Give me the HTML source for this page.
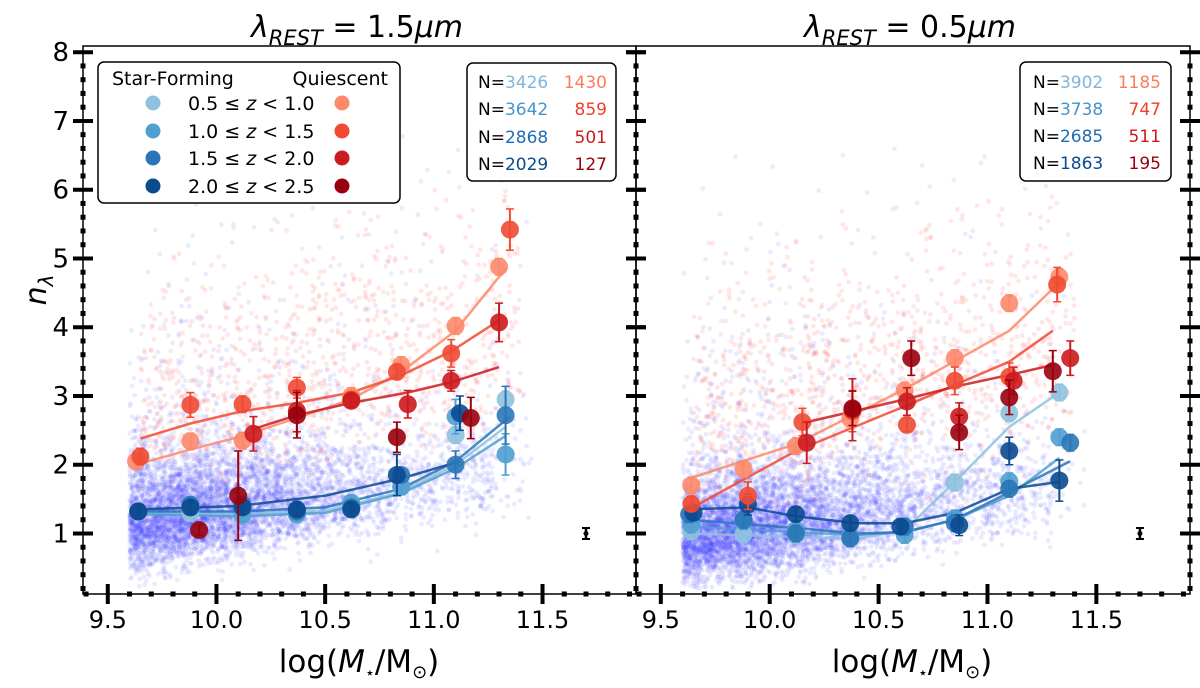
<!DOCTYPE html>
<html><head><meta charset="utf-8"><style>
html,body{margin:0;padding:0;background:#fff;}
svg{display:block;font-family:"DejaVu Sans","Liberation Sans",sans-serif;}
</style></head><body>
<svg id="fig" width="1200" height="688" viewBox="0 0 1200 688" xmlns="http://www.w3.org/2000/svg">
<g id="clouds"></g>
<g id="marks"></g>
<g id="axes"></g>
<text x="357" y="37" font-size="30" text-anchor="middle"><tspan font-style="italic">λ</tspan><tspan font-size="21" font-style="italic" dy="8">REST</tspan><tspan dy="-8"> = 1.5</tspan><tspan font-style="italic">μm</tspan></text>
<text x="910" y="37" font-size="30" text-anchor="middle"><tspan font-style="italic">λ</tspan><tspan font-size="21" font-style="italic" dy="8">REST</tspan><tspan dy="-8"> = 0.5</tspan><tspan font-style="italic">μm</tspan></text>
<text x="359" y="672" font-size="31" text-anchor="middle">log(<tspan font-style="italic">M</tspan><tspan font-size="16" dy="6">⋆</tspan><tspan dy="-6">/M</tspan><tspan font-size="18" dy="6">⊙</tspan><tspan dy="-6">)</tspan></text>
<text x="912" y="672" font-size="31" text-anchor="middle">log(<tspan font-style="italic">M</tspan><tspan font-size="16" dy="6">⋆</tspan><tspan dy="-6">/M</tspan><tspan font-size="18" dy="6">⊙</tspan><tspan dy="-6">)</tspan></text>
<text transform="translate(46,290) rotate(-90)" font-size="30" text-anchor="middle"><tspan font-style="italic">n</tspan><tspan font-size="20" font-style="italic" dy="7">λ</tspan></text>

<g>
<rect x="98" y="62" width="302" height="141" rx="6" fill="#fff" stroke="#000" stroke-width="1.5"/>
<text x="112" y="85" font-size="19">Star-Forming</text>
<text x="388" y="85" font-size="19" text-anchor="end">Quiescent</text>
<g font-size="19">
<circle cx="153" cy="103" r="7.5" fill="#8fc1de"/><text x="188" y="110">0.5 ≤ <tspan font-style="italic">z</tspan> &lt; 1.0</text><circle cx="342" cy="103" r="7.5" fill="#fc8a6a"/>
<circle cx="153" cy="131" r="7.5" fill="#4f9fd1"/><text x="188" y="138">1.0 ≤ <tspan font-style="italic">z</tspan> &lt; 1.5</text><circle cx="342" cy="131" r="7.5" fill="#f04a33"/>
<circle cx="153" cy="158" r="7.5" fill="#2a75b8"/><text x="188" y="165">1.5 ≤ <tspan font-style="italic">z</tspan> &lt; 2.0</text><circle cx="342" cy="158" r="7.5" fill="#cb1b1e"/>
<circle cx="153" cy="186" r="7.5" fill="#0b4a8f"/><text x="188" y="193">2.0 ≤ <tspan font-style="italic">z</tspan> &lt; 2.5</text><circle cx="342" cy="186" r="7.5" fill="#99000d"/>
</g></g>

<g font-size="17">
<rect x="467" y="63" width="149" height="118" rx="6" fill="#fff" stroke="#000" stroke-width="1.5"/>
<text x="478" y="88">N=<tspan fill="#7fb6dc">3426</tspan></text><text x="607" y="88" text-anchor="end" fill="#fc7d5c">1430</text>
<text x="478" y="115">N=<tspan fill="#4394cf">3642</tspan></text><text x="607" y="115" text-anchor="end" fill="#f0402c">859</text>
<text x="478" y="143">N=<tspan fill="#1f6db5">2868</tspan></text><text x="607" y="143" text-anchor="end" fill="#cb1b1e">501</text>
<text x="478" y="170">N=<tspan fill="#0b4a8f">2029</tspan></text><text x="607" y="170" text-anchor="end" fill="#99000d">127</text>
</g>
<g font-size="17">
<rect x="1020" y="62" width="151" height="119" rx="6" fill="#fff" stroke="#000" stroke-width="1.5"/>
<text x="1033" y="88">N=<tspan fill="#7fb6dc">3902</tspan></text><text x="1161" y="88" text-anchor="end" fill="#fc7d5c">1185</text>
<text x="1033" y="115">N=<tspan fill="#4394cf">3738</tspan></text><text x="1161" y="115" text-anchor="end" fill="#f0402c">747</text>
<text x="1033" y="142">N=<tspan fill="#1f6db5">2685</tspan></text><text x="1161" y="142" text-anchor="end" fill="#cb1b1e">511</text>
<text x="1033" y="169">N=<tspan fill="#0b4a8f">1863</tspan></text><text x="1161" y="169" text-anchor="end" fill="#99000d">195</text>
</g>
</svg>
<script>
// ---- data ----
const binMass = [9.64, 9.88, 10.12, 10.37, 10.62, 10.85, 11.1, 11.33];
// Left panel (1.5 micron) — quiescent
const L_q0_x = [9.63, 9.88, 10.12, 10.62, 10.85, 11.1, 11.3];
const L_q0_y = [2.05, 2.34, 2.35, 3.0, 3.45, 4.02, 4.88];
const L_q1_x = [9.65, 9.88, 10.12, 10.37, 10.62, 10.83, 11.08, 11.35];
const L_q1_y = [2.12, 2.87, 2.88, 3.12, 2.95, 3.35, 3.62, 5.42];
const L_q2_x = [10.17, 10.37, 10.62, 10.88, 11.08, 11.3];
const L_q2_y = [2.45, 2.78, 2.93, 2.88, 3.22, 4.07];
const L_q3_x = [9.92, 10.1, 10.37, 10.83, 11.17];
const L_q3_y = [1.05, 1.55, 2.72, 2.4, 2.68];
// Left panel — star-forming
const L_s0_y = [1.32, 1.3, 1.27, 1.27, 1.42, 1.68, 2.43, 2.95];
const L_s1_y = [1.32, 1.38, 1.27, 1.28, 1.45, 1.68, 2.7, 2.15];
const L_s2_y = [1.32, 1.42, 1.42, 1.32, 1.38, 1.85, 2.0, 2.72];
const L_s3_y = [1.32, 1.38, 1.38, 1.35, 1.35, 1.85, 2.75];
// Left fits
const L_fit_q0 = [[9.63,9.88,10.12,10.37,10.62,10.85,11.1,11.33],[2.0,2.22,2.42,2.68,2.95,3.35,3.95,4.85]];
const L_fit_q1 = [[9.65,9.88,10.12,10.37,10.62,10.85,11.08,11.3],[2.38,2.6,2.78,2.9,3.05,3.3,3.65,4.1]];
const L_fit_q2 = [[10.17,10.37,10.62,10.88,11.08,11.3],[2.52,2.72,2.9,3.05,3.2,3.42]];
const L_fit_s0 = [[9.65,10.1,10.5,10.85,11.1,11.33],[1.3,1.28,1.33,1.6,2.0,2.55]];
const L_fit_s1 = [[9.65,10.1,10.5,10.85,11.1,11.33],[1.28,1.25,1.3,1.58,1.95,2.42]];
const L_fit_s2 = [[9.65,10.1,10.5,10.85,11.1,11.35],[1.32,1.32,1.38,1.65,2.05,2.7]];
const L_fit_s3 = [[9.65,10.1,10.5,10.85,11.12],[1.35,1.4,1.55,1.8,2.05]];
// Right panel (0.5 micron) — quiescent
const R_q0_y = [1.7, 1.94, 2.27, 2.67, 3.08, 3.55, 4.35, 4.73];
const R_q1_x = [9.64, 9.9, 10.15, 10.38, 10.63, 10.85, 11.1, 11.32];
const R_q1_y = [1.43, 1.55, 2.62, 2.78, 2.58, 3.22, 3.28, 4.62];
const R_q2_x = [10.17, 10.38, 10.63, 10.87, 11.12, 11.38];
const R_q2_y = [2.32, 2.8, 2.92, 2.7, 3.22, 3.55];
const R_q3_x = [10.38, 10.65, 10.87, 11.1, 11.3];
const R_q3_y = [2.82, 3.55, 2.47, 2.98, 3.36];
// Right panel — star-forming
const R_s0_y = [1.03, 0.99, 0.97, 0.93, 1.07, 1.74, 2.75, 3.05];
const R_s1_y = [1.13, 1.18, 1.05, 0.97, 0.98, 1.22, 1.76, 2.4];
const R_s2_x = [9.63, 9.88, 10.12, 10.37, 10.62, 10.85, 11.1, 11.38];
const R_s2_y = [1.28, 1.2, 1.0, 0.93, 1.1, 1.15, 1.65, 2.32];
const R_s3_x = [9.65, 9.9, 10.12, 10.37, 10.6, 10.87, 11.1, 11.33];
const R_s3_y = [1.3, 1.42, 1.28, 1.15, 1.1, 1.12, 2.2, 1.77];
// Right fits
const R_fit_q0 = [[9.63,10.12,10.62,11.1,11.33],[1.8,2.3,3.1,3.95,4.65]];
const R_fit_q1 = [[9.63,10.12,10.62,11.1,11.3],[1.35,2.2,2.85,3.5,3.95]];
const R_fit_q2 = [[10.17,10.62,10.87,11.12,11.3],[2.62,2.95,3.15,3.32,3.45]];
const R_fit_s0 = [[9.63,10.12,10.4,10.62,10.85,11.1,11.33],[1.0,0.95,0.92,1.05,1.75,2.55,3.05]];
const R_fit_s1 = [[9.63,10.12,10.4,10.62,10.85,11.1,11.33],[1.1,1.02,0.98,1.02,1.2,1.55,2.1]];
const R_fit_s2 = [[9.63,10.12,10.4,10.62,10.85,11.1,11.38],[1.2,1.08,1.0,1.02,1.2,1.6,2.05]];
const R_fit_s3 = [[9.63,9.9,10.12,10.4,10.62,10.85,11.1,11.33],[1.35,1.38,1.25,1.15,1.15,1.3,1.65,1.75]];
const xTicks = [9.5, 10.0, 10.5, 11.0, 11.5];
const xTickLabels = ["9.5", "10.0", "10.5", "11.0", "11.5"];
const yTicks = [1, 2, 3, 4, 5, 6, 7, 8];
const typErr = [11.7, 1.0, 0.08];

// ---- scales ----
const X0 = 9.386, X1 = 11.93, Y0 = 0.12, Y1 = 8.09;
const panels = [{l:83, r:636}, {l:636, r:1190}];
const TOP = 46, BOT = 594;
function sx(p, v){ return p.l + (v - X0) / (X1 - X0) * (p.r - p.l); }
function sy(v){ return BOT - (v - Y0) / (Y1 - Y0) * (BOT - TOP); }
const NS = "http://www.w3.org/2000/svg";
function mk(tag, attrs, parent){ const e = document.createElementNS(NS, tag); for (const k in attrs) e.setAttribute(k, attrs[k]); parent.appendChild(e); return e; }
const clouds = document.getElementById('clouds'), marks = document.getElementById('marks'), axes = document.getElementById('axes');

// ---- background density texture (seeded, decorative) ----
let seed = 12345;
function rnd(){ seed = (seed + 0x6D2B79F5) | 0; let t = seed; t = Math.imul(t ^ (t >>> 15), t | 1); t ^= t + Math.imul(t ^ (t >>> 7), t | 61); return ((t ^ (t >>> 14)) >>> 0) / 4294967296; }
function gauss(){ return Math.sqrt(-2*Math.log(rnd()+1e-9))*Math.cos(2*Math.PI*rnd()); }
panels.forEach((p, pi) => {
  const g = mk('g', {}, clouds);
  
  
  const nBlue = pi ? 6500 : 6000;
  for (let i = 0; i < nBlue; i++) {
    let m = 9.6 + Math.abs(gauss()) * 0.5 * (rnd() < 0.6 ? 1 : 1.5);
    if (rnd() < 0.15) m = 9.6 + rnd() * 1.7;
    const base = pi ? 0.55 : 0.75;
    let n = base + Math.abs(gauss()) * (pi ? 0.55 : 0.6) + (m - 9.6) * 0.45 + gauss() * 0.25;
    if (rnd() < 0.08) n += Math.abs(gauss()) * 1.5;
    if (m > 11.45 || n < 0.2 || n > 7.9) continue;
    mk('circle', {cx: sx(p, m).toFixed(1), cy: sy(n).toFixed(1), r: 2.4, fill: 'rgba(60,60,255,0.1)'}, g);
  }
  for (let i = 0; i < 1000; i++) {
    const m = 9.65 + rnd() * 1.75;
    let n = 2.0 + Math.abs(gauss()) * 1.3 + (m - 9.7) * 0.6 + gauss() * 0.4;
    if (m > 11.5 || n < 0.3) continue;
    if (n > 7.95) n = 7.95;
    mk('circle', {cx: sx(p, m).toFixed(1), cy: sy(n).toFixed(1), r: 2.4, fill: 'rgba(255,70,70,0.13)'}, g);
  }
});

// ---- marks ----
function drawSeries(p, xs, ys, color, name, err){
  const g = mk('g', {}, marks);
  
  
  ys.forEach((v, i) => {
    if (i >= xs.length) return;
    const e = err ? err[i % err.length] : 0.12;
    const cx = sx(p, xs[i]);
    mk('line', {x1: cx, x2: cx, y1: sy(v - e), y2: sy(v + e), stroke: color, 'stroke-width': 2}, g);
    mk('line', {x1: cx-4, x2: cx+4, y1: sy(v + e), y2: sy(v + e), stroke: color, 'stroke-width': 1.5}, g);
    mk('line', {x1: cx-4, x2: cx+4, y1: sy(v - e), y2: sy(v - e), stroke: color, 'stroke-width': 1.5}, g);
    mk('circle', {cx: cx, cy: sy(v), r: 9, fill: color, 'fill-opacity': 0.9}, g);
  });
}
function drawFit(p, f, color, name){
  const pts = f[0].map((x, i) => sx(p, x).toFixed(1) + ',' + sy(f[1][i]).toFixed(1)).join(' ');
  const l = mk('polyline', {points: pts, fill: 'none', stroke: color, 'stroke-width': 2.5, 'stroke-opacity': 0.85}, marks);
  
  
}
const C = {s0:'#8fc1de', s1:'#4f9fd1', s2:'#2a75b8', s3:'#0b4a8f', q0:'#fc8a6a', q1:'#f04a33', q2:'#cb1b1e', q3:'#99000d'};
const PL = panels[0], PR = panels[1];
drawFit(PL, L_fit_q0, C.q0, 'left-fit-q0'); drawFit(PL, L_fit_q1, C.q1, 'left-fit-q1'); drawFit(PL, L_fit_q2, C.q2, 'left-fit-q2');
drawFit(PL, L_fit_s0, C.s0, 'left-fit-s0'); drawFit(PL, L_fit_s1, C.s1, 'left-fit-s1'); drawFit(PL, L_fit_s2, C.s2, 'left-fit-s2'); drawFit(PL, L_fit_s3, C.s3, 'left-fit-s3');
drawFit(PR, R_fit_q0, C.q0, 'right-fit-q0'); drawFit(PR, R_fit_q1, C.q1, 'right-fit-q1'); drawFit(PR, R_fit_q2, C.q2, 'right-fit-q2');
drawFit(PR, R_fit_s0, C.s0, 'right-fit-s0'); drawFit(PR, R_fit_s1, C.s1, 'right-fit-s1'); drawFit(PR, R_fit_s2, C.s2, 'right-fit-s2'); drawFit(PR, R_fit_s3, C.s3, 'right-fit-s3');
drawSeries(PL, binMass, L_s0_y, C.s0, 'left-sf-z05'); drawSeries(PL, binMass, L_s1_y, C.s1, 'left-sf-z10', [0.1,0.1,0.1,0.1,0.1,0.1,0.25,0.3]);
drawSeries(PL, binMass, L_s2_y, C.s2, 'left-sf-z15', [0.1,0.1,0.1,0.1,0.1,0.1,0.2,0.42]); drawSeries(PL, [9.64,9.88,10.12,10.37,10.62,10.83,11.12], L_s3_y, C.s3, 'left-sf-z20', [0.1,0.1,0.1,0.1,0.1,0.3,0.25]);
drawSeries(PL, L_q0_x, L_q0_y, C.q0, 'left-q-z05'); drawSeries(PL, L_q1_x, L_q1_y, C.q1, 'left-q-z10', [0.12,0.18,0.12,0.15,0.1,0.1,0.2,0.3]);
drawSeries(PL, L_q2_x, L_q2_y, C.q2, 'left-q-z15', [0.25,0.3,0.1,0.2,0.15,0.28]); drawSeries(PL, L_q3_x, L_q3_y, C.q3, 'left-q-z20', [0.08,0.65,0.33,0.22,0.3]);
drawSeries(PR, binMass, R_s0_y, C.s0, 'right-sf-z05'); drawSeries(PR, binMass, R_s1_y, C.s1, 'right-sf-z10');
drawSeries(PR, R_s2_x, R_s2_y, C.s2, 'right-sf-z15'); drawSeries(PR, R_s3_x, R_s3_y, C.s3, 'right-sf-z20', [0.1,0.15,0.1,0.1,0.1,0.15,0.2,0.3]);
drawSeries(PR, binMass, R_q0_y, C.q0, 'right-q-z05'); drawSeries(PR, R_q1_x, R_q1_y, C.q1, 'right-q-z10', [0.1,0.2,0.2,0.3,0.1,0.2,0.2,0.25]);
drawSeries(PR, R_q2_x, R_q2_y, C.q2, 'right-q-z15', [0.3,0.45,0.2,0.2,0.2,0.25]); drawSeries(PR, R_q3_x, R_q3_y, C.q3, 'right-q-z20', [0.25,0.25,0.25,0.25,0.3]);
panels.forEach((p, pi) => {
  const g = mk('g', {}, marks);
  
  
  const cx = sx(p, typErr[0]);
  mk('line', {x1: cx, x2: cx, y1: sy(typErr[1]-typErr[2]), y2: sy(typErr[1]+typErr[2]), stroke: '#000', 'stroke-width': 2.5}, g);
  mk('line', {x1: cx-4, x2: cx+4, y1: sy(typErr[1]-typErr[2]), y2: sy(typErr[1]-typErr[2]), stroke: '#000', 'stroke-width': 2}, g);
  mk('line', {x1: cx-4, x2: cx+4, y1: sy(typErr[1]+typErr[2]), y2: sy(typErr[1]+typErr[2]), stroke: '#000', 'stroke-width': 2}, g);
  mk('circle', {cx: cx, cy: sy(typErr[1]), r: 2.5, fill: '#000'}, g);
});

// ---- axes ----
panels.forEach((p, pi) => {
  const g = mk('g', {}, axes);
  
  
  mk('rect', {x: p.l, y: TOP, width: p.r - p.l, height: BOT - TOP, fill: 'none', stroke: '#000', 'stroke-width': 1.5}, g);
  for (let k = 94; k <= 119; k++) {
    const x = sx(p, k / 10);
    if (k % 5 === 0) mk('line', {x1: x, x2: x, y1: BOT - 10, y2: BOT + 10, stroke: '#000', 'stroke-width': 4}, g);
    else mk('rect', {x: x - 2.5, y: BOT - 2.5, width: 5, height: 5, fill: '#000'}, g);
  }
  xTicks.forEach((v, i) => {
    const t = mk('text', {x: sx(p, v), y: BOT + 34, 'font-size': 24, 'text-anchor': 'middle'}, g);
    t.textContent = xTickLabels[i];
    
    
  });
  for (let k = 1; k <= 40; k++) {
    const v = k * 0.2;
    if (v < Y0 || v > Y1) continue;
    const y = sy(v);
    const major = k % 5 === 0;
    [p.l, p.r].forEach(x => {
      if (major) mk('line', {x1: x - 10, x2: x + 10, y1: y, y2: y, stroke: '#000', 'stroke-width': 4}, g);
      else mk('rect', {x: x - 2.5, y: y - 2.5, width: 5, height: 5, fill: '#000'}, g);
    });
  }
  if (pi === 0) yTicks.forEach(v => {
    const t = mk('text', {x: p.l - 14, y: sy(v) + 9, 'font-size': 26, 'text-anchor': 'end'}, g);
    t.textContent = String(v);
    
    
  });
});
</script>
</body></html>
